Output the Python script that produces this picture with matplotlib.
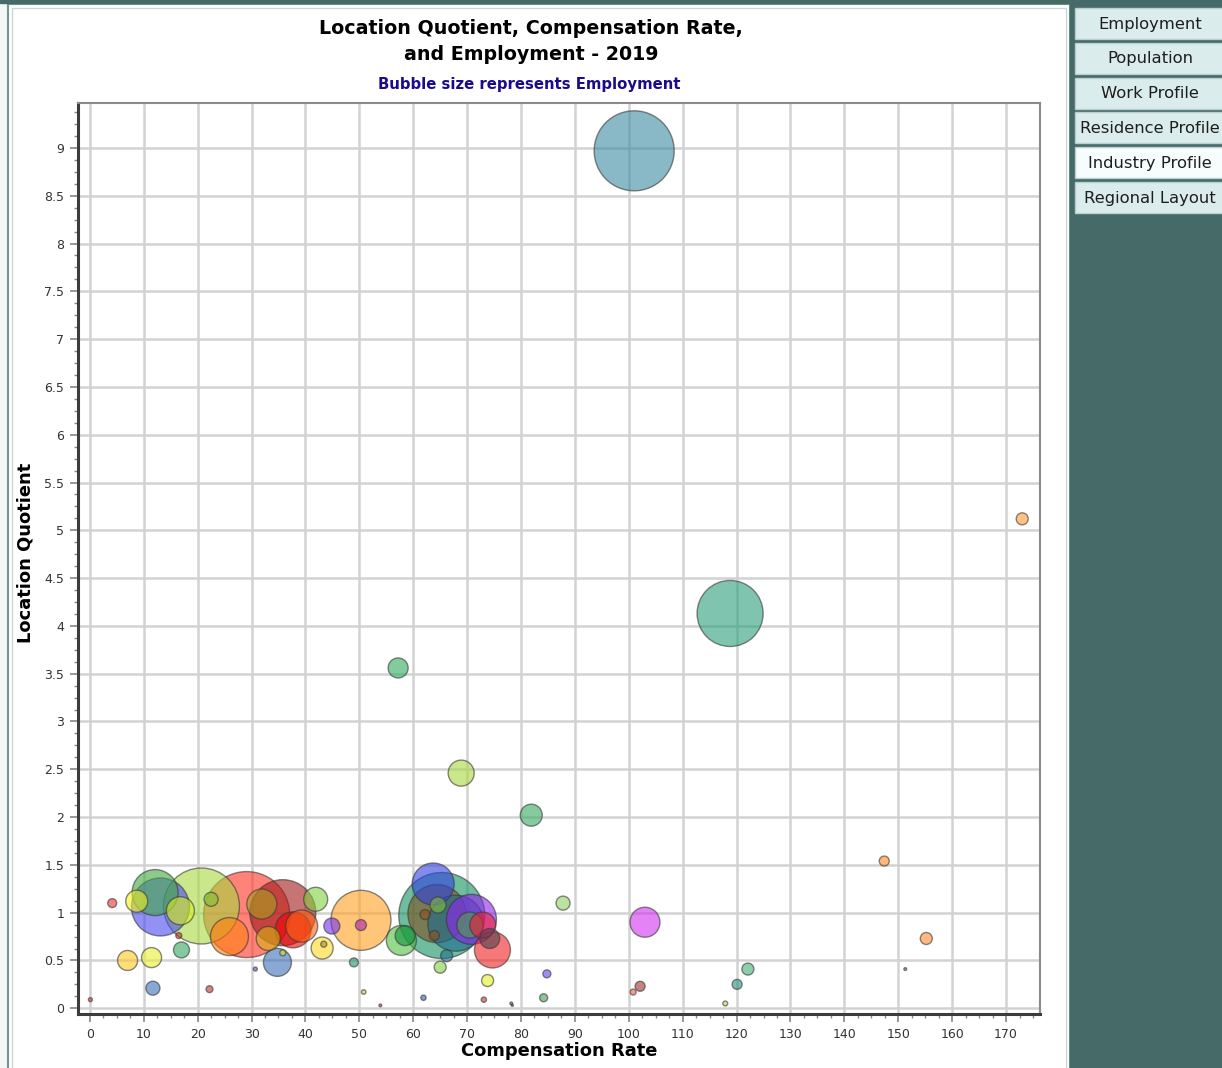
import matplotlib.pyplot as plt
import numpy as np
from matplotlib.patches import Rectangle
from matplotlib.ticker import AutoMinorLocator, FuncFormatter

# Data
comp_rate = [101.0, 118.8, 173.0, 57.2, 68.9, 81.9, 147.4, 87.8, 103.0, 155.2,
             122.1, 120.1, 102.1, 100.8, 117.9, 151.3, 0.1, 4.15, 8.7, 12.1,
             13.1, 16.8, 20.7, 22.5, 16.5, 17.0, 7.0, 11.45, 11.7, 22.2,
             29.1, 25.9, 35.8, 31.9, 41.9, 37.7, 39.3, 33.1, 34.8, 35.8,
             30.7, 43.1, 43.4, 44.9, 50.3, 50.3, 49.0, 50.8, 53.9, 57.8,
             58.5, 63.7, 65.3, 64.4, 67.9, 70.8, 72.9, 70.5, 74.2, 74.7,
             62.2, 63.9, 66.2, 65.0, 73.8, 61.9, 73.1, 78.2, 78.4, 84.8,
             84.2, 64.6]
loc_quotient = [8.97, 4.13, 5.12, 3.56, 2.46, 2.02, 1.54, 1.10, 0.90, 0.73,
                0.41, 0.25, 0.23, 0.17, 0.05, 0.41, 0.09, 1.10, 1.12, 1.21,
                1.06, 1.02, 1.07, 1.14, 0.76, 0.61, 0.50, 0.53, 0.21, 0.20,
                0.98, 0.75, 1.00, 1.09, 1.14, 0.82, 0.86, 0.73, 0.48, 0.58,
                0.41, 0.63, 0.67, 0.86, 0.92, 0.87, 0.48, 0.17, 0.03, 0.71,
                0.76, 1.30, 0.97, 0.99, 0.89, 0.93, 0.87, 0.87, 0.73, 0.61,
                0.98, 0.76, 0.55, 0.43, 0.29, 0.11, 0.09, 0.05, 0.03, 0.36,
                0.11, 1.08]
employment = [16000, 10900, 360, 1000, 1690, 1210, 250, 490, 2250, 360,
              360, 250, 250, 90, 60, 20, 40, 200, 1210, 5290,
              8410, 1960, 14440, 490, 90, 640, 1000, 1000, 490, 120,
              18490, 3610, 10890, 2250, 1440, 3240, 2560, 1440, 1960, 90,
              40, 1210, 90, 640, 9000, 300, 200, 50, 20, 2250,
              1000, 4410, 18490, 8410, 7840, 6250, 1690, 1690, 1000, 3240,
              250, 250, 360, 360, 360, 70, 70, 20, 10, 160,
              160, 640]
colors = ['#3a8aa0', '#2a9d7b', '#ff9a30', '#2eaa5a', '#a8d840', '#36a860', '#ff8a20', '#8ed060', '#d030f0', '#ff8a30',
          '#40b070', '#2a9080', '#a03030', '#f06030', '#a8d840', '#607030', '#e03030', '#e83030', '#f0f020', '#40a840',
          '#4848f0', '#d8f020', '#a8d840', '#80c030', '#c03030', '#30a860', '#ffc820', '#e8f030', '#3a70b8', '#c03030',
          '#ff3020', '#ff8010', '#a01818', '#a8a020', '#80d040', '#f00000', '#ff6010', '#d8b010', '#3a70b8', '#e0e020',
          '#5050e0', '#ffd820', '#a09030', '#7030f0', '#ffa020', '#b020b0', '#209060', '#e0c020', '#c03030', '#50c040',
          '#109040', '#3040e0', '#109060', '#805020', '#1a6a90', '#9020f0', '#f02030', '#50a050', '#504050', '#f02020',
          '#905020', '#905020', '#207090', '#80d040', '#e0f020', '#3060b0', '#d03030', '#8030c0', '#708030', '#6040f0',
          '#40a050', '#80c040']

x_ticks = np.arange(0, 171, 10)
y_ticks = np.arange(0, 9.01, 0.5)
buttons = ["Employment", "Population", "Work Profile", "Residence Profile",
           "Industry Profile", "Regional Layout"]
selected = "Industry Profile"

W, H = 1222, 1068
fig = plt.figure(figsize=(W / 100, H / 100), dpi=100)

# page background: chart panel frame and right-hand menu
bg = fig.add_axes([0, 0, 1, 1], zorder=0)
bg.set_xlim(0, W)
bg.set_ylim(H, 0)
bg.axis("off")
bg.add_patch(Rectangle((0, 0), W, H, color="#f4f6f6"))
bg.add_patch(Rectangle((8, 4), 1062, H, facecolor="white", edgecolor="#6f9593", lw=1.5))
bg.add_patch(Rectangle((12, 8), 1054, H, facecolor="none", edgecolor="#c8d8d8", lw=1))
bg.add_patch(Rectangle((1070, 0), W - 1070, H, color="#466a68"))
bg.add_patch(Rectangle((0, 0), 1070, 3, color="#466a68"))
for i, name in enumerate(buttons):
    top = 8 + i * 34.8
    fc = "#f7fcfc" if name == selected else "#dbecec"
    bg.add_patch(Rectangle((1075, top), W - 1075 + 5, 31, facecolor=fc,
                           edgecolor="#b8d0d0", lw=1))
    bg.text(1150, top + 16, name, ha="center", va="center", fontsize=11.8,
            color="#1e1e1e")

ax = fig.add_axes([78 / W, 1 - 1014 / H, 962 / W, 911 / H], zorder=1)
order = np.argsort(employment)[::-1]
sizes = np.array(employment) * 0.2074
ax.scatter(np.array(comp_rate)[order], np.array(loc_quotient)[order],
           s=sizes[order], c=np.array(colors)[order], alpha=0.6,
           edgecolors="#383838", linewidths=1.0, zorder=3)

ax.set_xlim(-2.2, 176.3)
ax.set_ylim(-0.06, 9.47)
ax.set_xticks(x_ticks)
ax.set_yticks(y_ticks)
ax.xaxis.set_minor_locator(AutoMinorLocator(4))
ax.yaxis.set_minor_locator(AutoMinorLocator(4))
ax.yaxis.set_major_formatter(FuncFormatter(lambda v, p: f"{v:g}"))
ax.grid(True, which="major", color="#d2d2d2", lw=1.8)
ax.set_axisbelow(True)
ax.tick_params(which="major", direction="out", length=6, width=1.2,
               color="#888888", labelsize=9, labelcolor="#333333", pad=4)
ax.tick_params(which="minor", direction="out", length=3, width=1,
               color="#888888")
for side in ["left", "bottom"]:
    ax.spines[side].set_color("#3c3c3c")
    ax.spines[side].set_linewidth(2.2)
for side in ["top", "right"]:
    ax.spines[side].set_color("#8a8a8a")
    ax.spines[side].set_linewidth(1.5)

ax.set_xlabel("Compensation Rate", fontsize=12.9, fontweight="bold", labelpad=1)
ax.set_ylabel("Location Quotient", fontsize=12.9, fontweight="bold", labelpad=8)
ax.yaxis.set_label_coords(-0.0455, 0.506)

fig.text(531 / W, 1 - 28 / H, "Location Quotient, Compensation Rate,",
         ha="center", va="center", fontsize=13.7, fontweight="bold")
fig.text(531 / W, 1 - 55 / H, "and Employment - 2019",
         ha="center", va="center", fontsize=13.7, fontweight="bold")
fig.text(529 / W, 1 - 85 / H, "Bubble size represents Employment",
         ha="center", va="center", fontsize=10.7, fontweight="bold",
         color="#1a0a8c")

fig.savefig("out.png", dpi=100)
